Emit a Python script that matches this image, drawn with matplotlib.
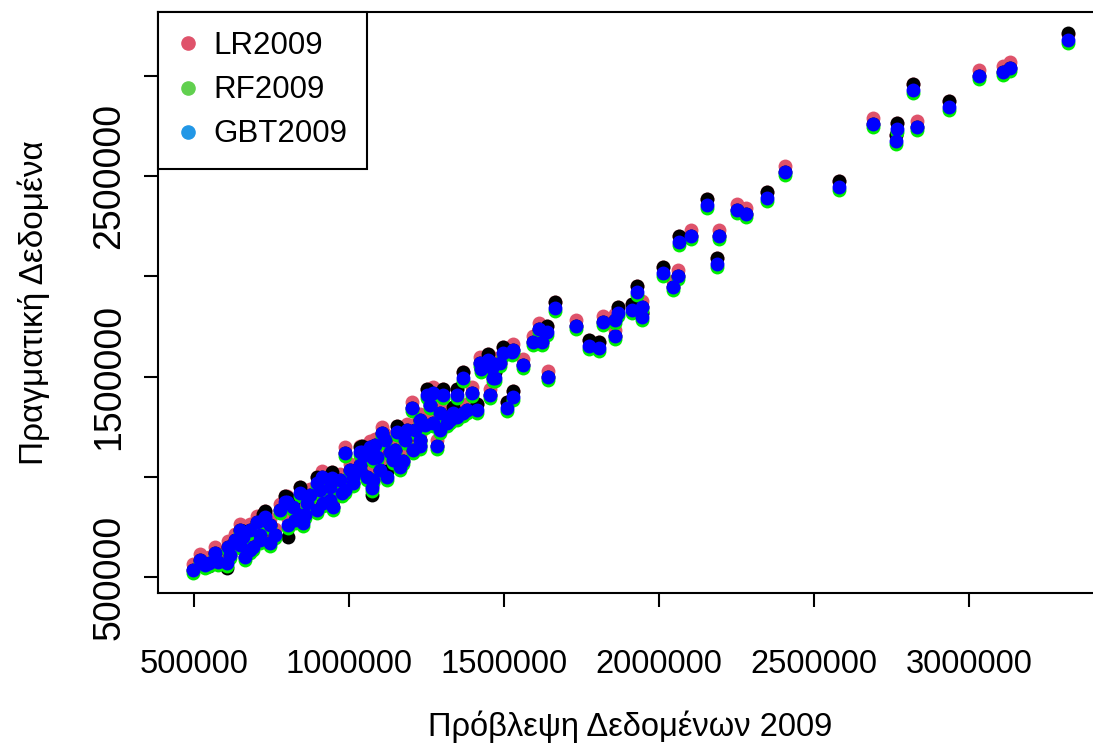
import numpy as np
import matplotlib.pyplot as plt
from matplotlib.lines import Line2D

plt.rcParams['font.family'] = ['Liberation Sans', 'DejaVu Sans']

# predictions (x) and observed values per model, in thousands
pred_x = [3320, 3132, 3110, 3032, 2936, 2820, 2832, 2768, 2765, 2690,
          2581, 2407, 2348, 2281, 2252, 2155, 2194, 2187, 2103, 2065,
          2061, 2045, 2013, 1929, 1945, 1913, 1945, 1868, 1858, 1819,
          1858, 1774, 1807, 1732, 1665, 1639, 1613, 1594, 1623, 1642,
          1561, 1529, 1510, 1526, 1497, 1448, 1426, 1461, 1471, 1368,
          1455, 1397, 1348, 1303, 1271, 1252, 1203, 1261, 1326, 1368,
          1413, 1294, 1316, 1271, 1229, 1294, 1229, 1187, 1155, 1106,
          1206, 1165, 1142, 1123, 1077, 1042, 987, 1077, 1058, 1074,
          1013, 977, 939, 916, 897, 865, 852, 819, 803, 745,
          723, 703, 658, 690, 665, 632, 610, 577, 548, 607,
          497, 794, 913, 945, 1036, 1132, 1174, 1465, 1487, 1423,
          729, 1284, 1229, 1155, 1100, 1068, 1052, 1090, 1036, 1013,
          897, 842, 800, 948, 648, 681, 713, 761, 616, 535,
          939, 987, 858, 826, 1348, 1381, 1336, 1455, 1529,
          648, 681, 745, 777, 842, 874, 906, 971, 1003, 1036,
          1084, 1116, 1148, 1181, 1213, 1245, 519, 568, 713]

gbt_y = [3179, 3039, 3019, 2999, 2844, 2929, 2745, 2735, 2675, 2760,
         2445, 2520, 2390, 2311, 2331, 2355, 2201, 2061, 2201, 2171,
         2001, 1947, 2016, 1922, 1847, 1832, 1797, 1817, 1782, 1772,
         1702, 1652, 1642, 1752, 1842, 1722, 1737, 1672, 1672, 1498,
         1557, 1398, 1343, 1622, 1617, 1582, 1538, 1542, 1493, 1493,
         1408, 1418, 1408, 1408, 1418, 1408, 1343, 1358, 1283, 1318,
         1333, 1318, 1268, 1268, 1283, 1233, 1183, 1233, 1223, 1218,
         1133, 1049, 1084, 999, 1094, 1123, 1119, 984, 999, 944,
         969, 919, 949, 869, 834, 869, 769, 849, 759, 670,
         784, 774, 700, 650, 600, 685, 650, 575, 570, 570,
         535, 874, 999, 994, 1123, 1123, 1079, 1493, 1567, 1567,
         799, 1153, 1153, 1084, 1034, 1148, 1109, 1099, 1034, 999,
         969, 919, 874, 849, 734, 635, 685, 710, 610, 560,
         884, 934, 809, 784, 1298, 1333, 1318, 1572, 1632,
         660, 734, 759, 834, 809, 909, 934, 984, 1034, 1059,
         1158, 1183, 1133, 1183, 1233, 1258, 585, 620, 710]

lr_y = [3209, 3069, 3049, 3029, 2874, 2959, 2775, 2765, 2705, 2790,
        2475, 2550, 2420, 2341, 2361, 2385, 2231, 2091, 2231, 2201,
        2031, 1977, 2046, 1952, 1877, 1862, 1817, 1847, 1812, 1802,
        1732, 1682, 1672, 1782, 1872, 1752, 1767, 1702, 1702, 1528,
        1587, 1428, 1373, 1652, 1647, 1612, 1568, 1572, 1523, 1523,
        1438, 1448, 1438, 1438, 1448, 1438, 1373, 1388, 1313, 1348,
        1363, 1348, 1298, 1298, 1313, 1263, 1213, 1263, 1253, 1248,
        1163, 1079, 1114, 1029, 1124, 1153, 1149, 1014, 1029, 950,
        999, 949, 979, 899, 864, 899, 799, 879, 789, 700,
        814, 804, 730, 680, 630, 715, 680, 605, 600, 600,
        565, 904, 1029, 1024, 1153, 1153, 1109, 1523, 1597, 1597,
        829, 1183, 1183, 1114, 1064, 1178, 1139, 1129, 1064, 1029,
        999, 949, 904, 879, 764, 665, 715, 740, 640, 590,
        914, 964, 839, 814, 1328, 1363, 1348, 1602, 1662,
        690, 764, 789, 864, 839, 939, 964, 1014, 1064, 1089,
        1188, 1213, 1163, 1213, 1263, 1288, 615, 650, 740]

rf_y = [3164, 3024, 3004, 2984, 2829, 2914, 2730, 2720, 2660, 2745,
        2430, 2505, 2375, 2296, 2316, 2340, 2186, 2046, 2186, 2156,
        1986, 1932, 2001, 1907, 1832, 1817, 1782, 1802, 1767, 1757,
        1687, 1637, 1627, 1737, 1827, 1707, 1722, 1657, 1657, 1483,
        1542, 1383, 1328, 1607, 1602, 1567, 1523, 1527, 1478, 1478,
        1393, 1403, 1393, 1393, 1403, 1393, 1328, 1343, 1268, 1303,
        1318, 1303, 1253, 1253, 1268, 1218, 1168, 1218, 1208, 1203,
        1118, 1034, 1069, 984, 1079, 1108, 1104, 969, 984, 929,
        954, 904, 934, 854, 819, 854, 754, 834, 744, 655,
        769, 759, 685, 635, 585, 670, 635, 560, 555, 555,
        520, 859, 984, 979, 1108, 1108, 1064, 1478, 1552, 1552,
        784, 1138, 1138, 1069, 1019, 1133, 1094, 1084, 1019, 984,
        954, 904, 859, 834, 719, 620, 670, 695, 595, 545,
        869, 919, 794, 769, 1283, 1318, 1303, 1557, 1617,
        645, 719, 744, 819, 794, 894, 919, 969, 1019, 1044,
        1143, 1168, 1118, 1168, 1218, 1243, 570, 605, 695]

black_y = [3212, 3039, 3019, 2999, 2874, 2959, 2745, 2765, 2705, 2760,
           2475, 2520, 2420, 2311, 2331, 2385, 2201, 2091, 2201, 2201,
           2001, 1947, 2046, 1952, 1847, 1862, 1817, 1847, 1782, 1772,
           1702, 1682, 1672, 1752, 1872, 1752, 1737, 1672, 1672, 1498,
           1557, 1428, 1373, 1622, 1647, 1612, 1538, 1542, 1523, 1523,
           1408, 1418, 1438, 1438, 1418, 1438, 1343, 1358, 1283, 1318,
           1363, 1318, 1268, 1268, 1283, 1233, 1183, 1233, 1253, 1218,
           1133, 1049, 1084, 1029, 1124, 1153, 1119, 984, 999, 909,
           969, 919, 979, 869, 834, 899, 799, 879, 700, 670,
           814, 774, 730, 650, 600, 685, 650, 575, 555, 545,
           535, 904, 999, 1024, 1148, 1123, 1079, 1493, 1567, 1567,
           829, 1153, 1153, 1084, 1034, 1148, 1109, 1099, 1034, 999,
           999, 949, 899, 849, 734, 635, 685, 710, 610, 560,
           884, 934, 809, 784, 1298, 1333, 1348, 1572, 1632,
           660, 734, 759, 834, 809, 909, 934, 984, 1034, 1059,
           1158, 1183, 1133, 1183, 1233, 1258, 585, 620, 710]

legend_labels = ['LR2009', 'RF2009', 'GBT2009']
legend_colors = ['#DF536B', '#61D04F', '#2297E6']

x = np.array(pred_x) * 1000
fig = plt.figure(figsize=(10.93, 7.44), dpi=100)
ax = fig.add_axes([158 / 1093, 1 - 593 / 744, 944 / 1093, 581 / 744])

s = 100
ax.scatter(x, np.array(lr_y) * 1000, s=s, c='#DF536B', linewidths=0, zorder=2)
ax.scatter(x, np.array(black_y) * 1000, s=s, c='black', linewidths=0, zorder=3)
ax.scatter(x, np.array(rf_y) * 1000, s=s, c='#00EE00', linewidths=0, zorder=4)
ax.scatter(x, np.array(gbt_y) * 1000, s=s, c='blue', linewidths=0, zorder=5)

ax.set_xlim(383900, 3429000)
ax.set_ylim(420200, 3318200)

xt = [500000, 1000000, 1500000, 2000000, 2500000, 3000000]
ax.set_xticks(xt)
ax.set_xticklabels([str(v) for v in xt], fontsize=23.5)
yt = [500000, 1000000, 1500000, 2000000, 2500000, 3000000]
ax.set_yticks(yt)
ax.set_yticklabels(['500000', '', '1500000', '', '2500000', ''],
                   fontsize=27, rotation=90, va='center')
ax.tick_params(length=10, width=1.5, pad=12)
ax.tick_params(axis='x', pad=30)
for sp in ax.spines.values():
    sp.set_linewidth(1.5)

ax.set_xlabel('Πρόβλεψη Δεδομένων 2009', fontsize=23.5, labelpad=22)
ax.set_ylabel('Πραγματική Δεδομένα', fontsize=24, labelpad=30)

handles = [Line2D([], [], marker='o', ls='', color=c, markersize=9.5)
           for c in legend_colors]
leg = ax.legend(handles, legend_labels, loc='upper left', bbox_to_anchor=(0, 1),
                borderaxespad=0, fontsize=22.5, frameon=True, fancybox=False,
                edgecolor='black', framealpha=1, borderpad=0.62,
                handlelength=0.7, handletextpad=0.45, labelspacing=0.45)
leg.get_frame().set_linewidth(1.5)

fig.savefig('out.png', dpi=100)
